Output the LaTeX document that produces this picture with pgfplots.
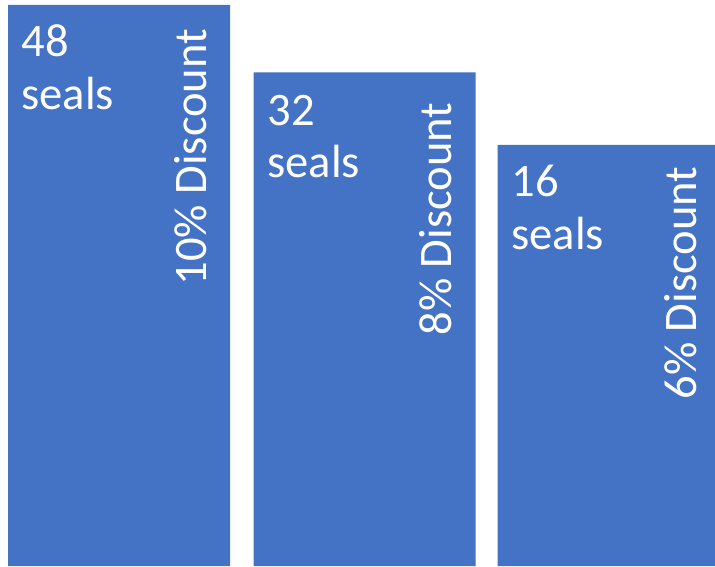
\documentclass[border=0pt]{standalone}
\usepackage{fontspec}
\setmainfont{Carlito}
\usepackage{pgfplots}
\pgfplotsset{compat=1.18}
\definecolor{barblue}{HTML}{4472C4}

\begin{document}
\begin{tikzpicture}
  \begin{axis}[
      scale only axis,
      width=357.5pt, height=283pt,
      xmin=0, xmax=715, ymin=0, ymax=566,
      axis lines=box, axis line style={draw=none}, ticks=none,
      ybar, bar width=222,
      clip=true,
    ]
    % bar heights in px of the original picture
    \addplot[fill=barblue, draw=none] coordinates {
      (119,561) (364.5,493.5) (608.5,421)
    };
    \begin{scope}[every node/.style={text=white, inner sep=0pt,
        font=\fontsize{23.3}{28}\selectfont}]
      \node[anchor=base west] at (axis cs:21,509) {48};
      \node[anchor=base west] at (axis cs:21,456) {seals};
      \node[anchor=base west] at (axis cs:267,440) {32};
      \node[anchor=base west] at (axis cs:267,388) {seals};
      \node[anchor=base west] at (axis cs:511,369) {16};
      \node[anchor=base west] at (axis cs:511,316) {seals};
      \node[anchor=base west, rotate=90] at (axis cs:206.7,280) {10\% Discount};
      \node[anchor=base west, rotate=90] at (axis cs:451.7,230) {8\% Discount};
      \node[anchor=base west, rotate=90] at (axis cs:696.7,166) {6\% Discount};
    \end{scope}
  \end{axis}
\end{tikzpicture}
\end{document}
